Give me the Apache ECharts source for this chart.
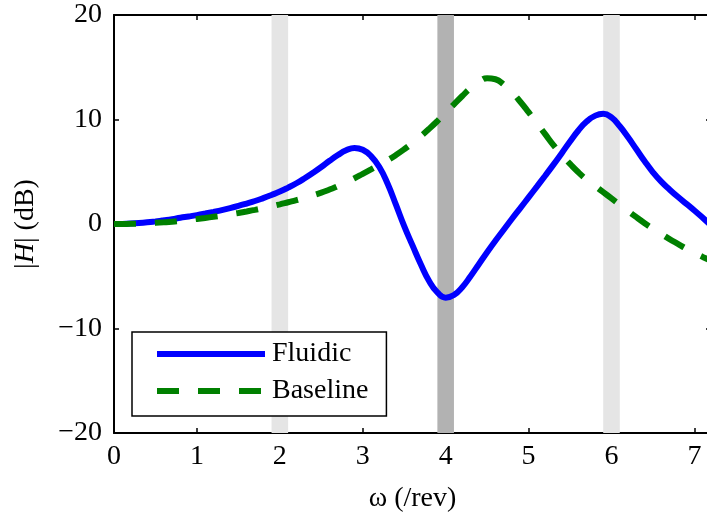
<!DOCTYPE html>
<html>
<head>
<meta charset="utf-8">
<script src="https://cdn.jsdelivr.net/npm/echarts@6/dist/echarts.min.js"></script>
<style>
  html, body { margin: 0; padding: 0; background: #fff; }
  #chart { width: 707px; height: 517px; }
</style>
</head>
<body>
<div id="chart"></div>
<script>
// Frequency response magnitude, |H| in dB versus frequency in /rev
const omega = [
  0.0, 0.1, 0.2, 0.3, 0.4, 0.5, 0.6, 0.7, 0.8, 0.9,
  1.0, 1.1, 1.2, 1.3, 1.4, 1.5, 1.6, 1.7, 1.8, 1.9,
  2.0, 2.1, 2.2, 2.3, 2.4, 2.5, 2.6, 2.7, 2.8, 2.9,
  3.0, 3.1, 3.2, 3.3, 3.4, 3.5, 3.6, 3.7, 3.8, 3.9,
  4.0, 4.1, 4.2, 4.3, 4.4, 4.5, 4.6, 4.7, 4.8, 4.9,
  5.0, 5.1, 5.2, 5.3, 5.4, 5.5, 5.6, 5.7, 5.8, 5.9,
  6.0, 6.1, 6.2, 6.3, 6.4, 6.5, 6.6, 6.7, 6.8, 6.9,
  7.0, 7.1, 7.2];

const fluidicDb = [
  0, 0.01, 0.04, 0.09, 0.16, 0.25, 0.35, 0.46, 0.6, 0.72,
  0.85, 1.0, 1.16, 1.33, 1.52, 1.73, 1.96, 2.2, 2.48, 2.78,
  3.1, 3.48, 3.9, 4.38, 4.9, 5.45, 6.05, 6.6, 7.05, 7.28,
  7.1, 6.5, 5.45, 3.85, 1.85, -0.2, -2.05, -3.85, -5.45, -6.55,
  -7.05, -6.8, -6.05, -5.0, -3.85, -2.7, -1.6, -0.55, 0.5, 1.52,
  2.55, 3.58, 4.62, 5.68, 6.78, 7.9, 8.95, 9.8, 10.35, 10.55,
  10.2, 9.35, 8.3, 7.15, 6.0, 4.95, 4.05, 3.3, 2.6, 1.95,
  1.3, 0.6, -0.15];

const baselineDb = [
  0, 0.005, 0.02, 0.04, 0.07, 0.11, 0.16, 0.22, 0.3, 0.39,
  0.48, 0.58, 0.69, 0.8, 0.93, 1.06, 1.2, 1.35, 1.52, 1.7,
  1.88, 2.08, 2.28, 2.5, 2.74, 3.0, 3.3, 3.62, 4.0, 4.38,
  4.8, 5.22, 5.65, 6.1, 6.6, 7.15, 7.75, 8.4, 9.1, 9.85,
  10.65, 11.45, 12.25, 13.0, 13.6, 13.95, 13.85, 13.35, 12.6, 11.7,
  10.7, 9.65, 8.6, 7.55, 6.6, 5.75, 4.95, 4.25, 3.65, 3.05,
  2.45, 1.85, 1.25, 0.65, 0.08, -0.45, -0.95, -1.45, -1.9, -2.35,
  -2.75, -3.15, -3.5];

// Harmonic bands (in /rev) highlighted behind the curves
const bandRanges = [[1.9, 2.1], [3.9, 4.1], [5.9, 6.1]];

const xRange = [0, 7.2];
const yRange = [-20, 20];
const xStep = 1;
const yStep = 10;

const seriesNames = ['Fluidic', 'Baseline'];

const zip = (xs, ys) => xs.map((x, i) => [x, ys[i]]);

const FONT = 'Liberation Serif';
const bandFill = ['#e5e5e5', '#b2b2b2', '#e5e5e5'];

const axisLine = { show: true, onZero: false, lineStyle: { color: '#000', width: 2 } };
const axisTick = { show: true, inside: true, length: 5, lineStyle: { color: '#000', width: 1.5 } };
const labelFont = { fontFamily: FONT, fontSize: 28, color: '#000' };
const minus = v => String(v).replace('-', '\u2212');

const chart = echarts.init(document.getElementById('chart'), null, { renderer: 'canvas' });

chart.setOption({
  backgroundColor: '#fff',
  animation: false,
  grid: { left: 114, top: 15, width: 597, height: 418, containLabel: false, outerBoundsMode: 'none' },
  legend: {
    data: seriesNames,
    orient: 'vertical',
    left: 132,
    top: 332,
    padding: [7, 18, 10, 22],
    itemGap: 7,
    itemWidth: 108,
    itemHeight: 14,
    backgroundColor: '#fff',
    borderColor: '#000',
    borderWidth: 1.5,
    borderRadius: 0,
    lineStyle: { width: 6 },
    itemStyle: { opacity: 0, borderWidth: 0 },
    textStyle: Object.assign({ padding: [0, 0, 0, 2], lineHeight: 30 }, labelFont)
  },
  xAxis: [
    {
      type: 'value',
      min: xRange[0], max: xRange[1], interval: xStep,
      position: 'bottom',
      name: 'ω (/rev)',
      nameLocation: 'middle',
      nameGap: 52,
      nameTextStyle: labelFont,
      axisLine, axisTick,
      splitLine: { show: false },
      axisLabel: Object.assign({ margin: 10, showMaxLabel: false,
        formatter: v => (Number.isInteger(v) ? minus(v) : '') }, labelFont)
    },
    {
      type: 'value',
      min: xRange[0], max: xRange[1], interval: xStep,
      position: 'top',
      axisLine, axisTick,
      splitLine: { show: false },
      axisLabel: { show: false }
    }
  ],
  yAxis: [
    {
      type: 'value',
      min: yRange[0], max: yRange[1], interval: yStep,
      position: 'left',
      name: '{p||}{i|H}{p||} (dB)',
      nameLocation: 'middle',
      nameRotate: 90,
      nameGap: 74,
      nameTextStyle: Object.assign({
        rich: {
          p: { fontFamily: FONT, fontSize: 28, color: '#000' },
          i: { fontFamily: FONT, fontSize: 28, color: '#000', fontStyle: 'italic' }
        }
      }, labelFont),
      axisLine, axisTick,
      splitLine: { show: false },
      axisLabel: Object.assign({ margin: 12, formatter: minus }, labelFont)
    },
    {
      type: 'value',
      min: yRange[0], max: yRange[1], interval: yStep,
      position: 'right',
      axisLine, axisTick,
      splitLine: { show: false },
      axisLabel: { show: false }
    }
  ],
  series: [
    {
      name: 'bands',
      type: 'line',
      data: [],
      silent: true,
      z: 1,
      markArea: {
        silent: true,
        data: bandRanges.map((r, i) => [
          { xAxis: r[0], itemStyle: { color: bandFill[i], opacity: 1 } },
          { xAxis: r[1] }
        ])
      }
    },
    {
      name: seriesNames[0],
      type: 'line',
      data: zip(omega, fluidicDb),
      smooth: 0.5,
      symbol: 'none',
      z: 3,
      clip: true,
      lineStyle: { color: '#0000ff', width: 6 },
      itemStyle: { color: '#0000ff' }
    },
    {
      name: seriesNames[1],
      type: 'line',
      data: zip(omega, baselineDb),
      smooth: 0.5,
      symbol: 'none',
      z: 4,
      clip: true,
      lineStyle: { color: '#008000', width: 6, type: [22, 19] },
      itemStyle: { color: '#008000' }
    }
  ]
});
</script>
</body>
</html>
